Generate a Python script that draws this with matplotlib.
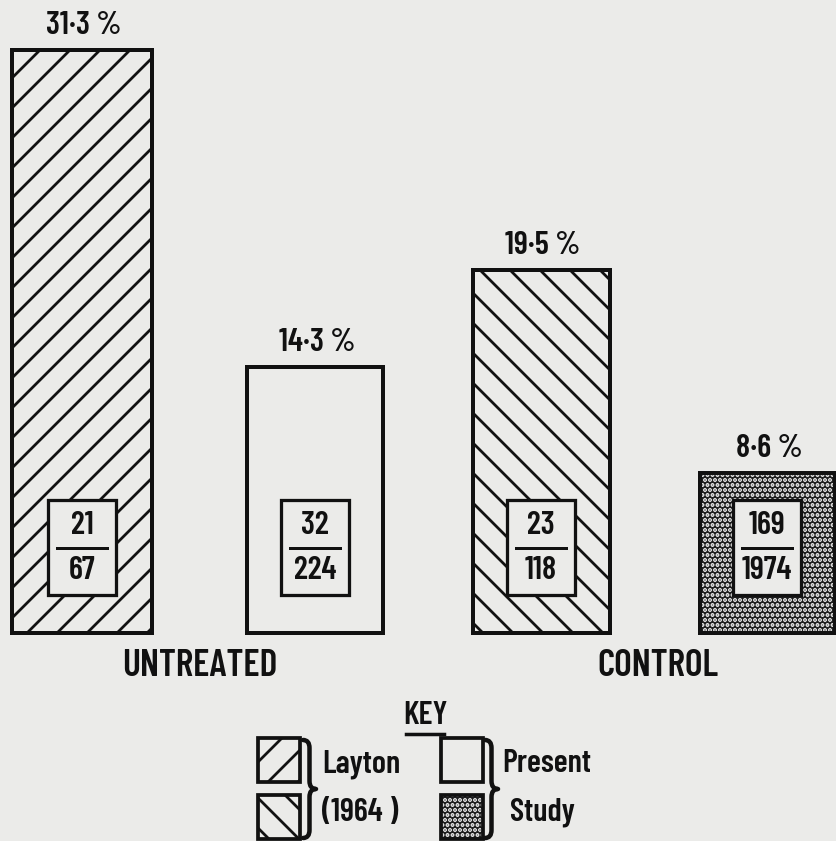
import matplotlib
matplotlib.use("Agg")
import matplotlib.pyplot as plt
from matplotlib.patches import Rectangle, PathPatch
from matplotlib.path import Path

# ---- data ----
groups = ["UNTREATED", "CONTROL"]
series = ["Layton (1964)", "Present Study", "Layton (1964)", "Present Study"]
percent = [31.3, 14.3, 19.5, 8.6]
numerators = [21, 32, 23, 169]
denominators = [67, 224, 118, 1974]

# ---- layout ----
W, H, DPI = 836, 841, 180
BG = "#ebebe9"
INK = "#111111"
DARK = "#1e1e1e"
plt.rcParams["font.family"] = ["Barlow Condensed", "DejaVu Sans"]
plt.rcParams["font.weight"] = 600
plt.rcParams["hatch.linewidth"] = 1.1

fig = plt.figure(figsize=(W / DPI, H / DPI), dpi=DPI, facecolor=BG)
ax = fig.add_axes([0, 0, 1, 1])
ax.set_facecolor(BG)
base_px = 633
px_per_unit = 583 / 31.3
ax.set_xlim(0, W)
ax.set_ylim(-(H - base_px) / px_per_unit, base_px / px_per_unit)
ax.axis("off")


def py(px):  # pixel distance -> data units
    return px / px_per_unit


centers = [82, 315, 541, 767]
widths = [140, 136, 137, 135]
hatches = ["//", "", "\\\\", "......"]
EDGE_LW = 1.6

for i, v in enumerate(percent):
    c, w = centers[i], widths[i]
    if i == 3:
        ax.bar(c, v, width=w, bottom=0, color=DARK, edgecolor="white",
               hatch=hatches[i], linewidth=0, zorder=2)
        ax.bar(c, v, width=w, bottom=0, fill=False, edgecolor=INK,
               linewidth=EDGE_LW, zorder=3)
    else:
        ax.bar(c, v, width=w, bottom=0, color=BG, edgecolor=INK,
               hatch=hatches[i], linewidth=EDGE_LW, zorder=2)
    # percentage label
    lab = f"{v:.1f}".replace(".", "·") + " %"
    ax.text(c + 2, v + py(24), lab, ha="center", va="center", fontsize=13,
            color=INK)
    # inner fraction box
    bw, bh, bb = 68, 95, 38
    ax.add_patch(Rectangle((c - bw / 2, py(bb)), bw, py(bh), facecolor=BG,
                           edgecolor=INK, linewidth=1.3, zorder=4))
    mid = py(bb + bh / 2)
    ax.plot([c - 25, c + 25], [mid, mid], color=INK, linewidth=1.2, zorder=5)
    ax.text(c, mid + py(22), str(numerators[i]), ha="center", va="center",
            fontsize=13, color=INK, zorder=5)
    ax.text(c, mid - py(23), str(denominators[i]), ha="center", va="center",
            fontsize=13, color=INK, zorder=5)

# group labels
group_x = [200, 658]
for g, gx in zip(groups, group_x):
    ax.text(gx, -py(33), g, ha="center", va="center", fontsize=15,
            color=INK)

# ---- key ----
def fx(px):
    return px / W


def fy(px):
    return 1 - px / H


tf = fig.transFigure
fig.text(fx(425), fy(716), "KEY", ha="center", va="center", fontsize=13,
         color=INK)
fig.add_artist(plt.Line2D([fx(406), fx(444)], [fy(734), fy(734)],
                          color=INK, linewidth=1.4, transform=tf))

kw, kh = 42, 44
key_boxes = [
    (258, 738, "//", BG),
    (258, 795, "\\\\", BG),
    (441, 738, "", BG),
    (441, 795, "......", DARK),
]
for (x0, y0, h, fc) in key_boxes:
    if fc != BG:
        fig.add_artist(Rectangle((fx(x0), fy(y0 + kh)), kw / W, kh / H,
                                 facecolor=fc, edgecolor="white", hatch=h,
                                 linewidth=0, transform=tf))
        fig.add_artist(Rectangle((fx(x0), fy(y0 + kh)), kw / W, kh / H,
                                 fill=False, edgecolor=INK, linewidth=1.5,
                                 transform=tf))
    else:
        fig.add_artist(Rectangle((fx(x0), fy(y0 + kh)), kw / W, kh / H,
                                 facecolor=fc, edgecolor=INK, hatch=h,
                                 linewidth=1.5, transform=tf))


def brace(x0, yt, yb, w):
    ym = (yt + yb) / 2
    r = 8
    xm = x0 + w / 2
    pts = [(x0, yt), (xm, yt), (xm, yt + r), (xm, ym - r), (xm, ym),
           (x0 + w, ym), (xm, ym), (xm, ym + r), (xm, yb - r), (xm, yb),
           (x0, yb)]
    codes = [Path.MOVETO, Path.CURVE3, Path.CURVE3, Path.LINETO, Path.CURVE3,
             Path.CURVE3, Path.CURVE3, Path.CURVE3, Path.LINETO, Path.CURVE3,
             Path.CURVE3]
    verts = [(fx(x), fy(y)) for x, y in pts]
    fig.add_artist(PathPatch(Path(verts, codes), fill=False, edgecolor=INK,
                             linewidth=1.8, transform=tf, capstyle="round",
                             joinstyle="round"))


brace(303, 740, 838, 13)
brace(485, 740, 838, 13)

fig.text(fx(322), fy(764), "Layton", ha="left", va="center", fontsize=13,
         color=INK)
fig.text(fx(322), fy(812), "(1964 )", ha="left", va="center", fontsize=13,
         color=INK)
fig.text(fx(502), fy(764), "Present", ha="left", va="center", fontsize=13,
         color=INK)
fig.text(fx(510), fy(812), "Study", ha="left", va="center", fontsize=13,
         color=INK)

fig.savefig("out.png", dpi=DPI, facecolor=BG)
